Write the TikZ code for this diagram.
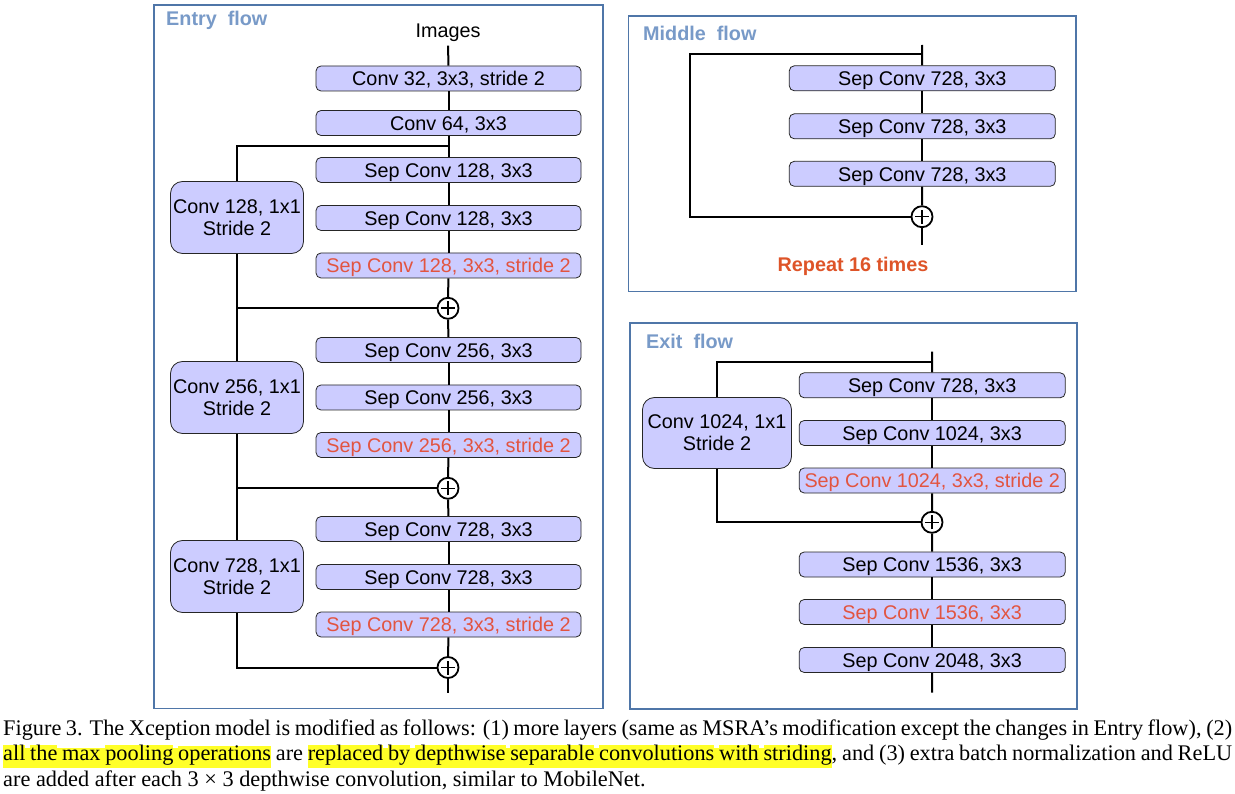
\documentclass[tikz,border=0pt]{standalone}
\usepackage{fontspec}
\setmainfont{Liberation Serif}
\newfontfamily\diagfont{Liberation Sans}

\definecolor{framecol}{RGB}{79,118,168}
\definecolor{titlecol}{RGB}{120,154,200}
\definecolor{boxfill}{RGB}{204,204,255}
\definecolor{stridered}{RGB}{226,84,64}
\definecolor{repeatcol}{RGB}{222,84,40}
\definecolor{hlyellow}{RGB}{255,255,40}

% highlighted word and highlighted (stretchable) interword space
\newcommand\hlw[1]{\begingroup\fboxsep=0pt\colorbox{hlyellow}{\vrule width0pt height12.6pt depth7.4pt\relax #1}\endgroup}
\newcommand\hlsp{{\color{hlyellow}\leaders\hrule height12.6pt depth7.4pt\relax\hskip\fontdimen2\font plus\fontdimen3\font minus\fontdimen4\font\relax}}

\begin{document}
\begin{tikzpicture}[x=1pt,y=-1pt,
  layer/.style={draw=black!85, line width=0.8pt, fill=boxfill, rounded corners=5pt,
    minimum width=265pt, minimum height=25pt, inner sep=0pt,
    font=\diagfont\fontsize{19.8}{22}\selectfont, text height=14.5pt, text depth=0pt},
  widelayer/.style={layer, minimum width=266pt},
  stridelayer/.style={text=stridered},
  shortcut/.style={draw=black!85, line width=0.8pt, fill=boxfill, rounded corners=12pt,
    minimum width=133pt, minimum height=72pt, inner sep=0pt, align=center,
    font=\diagfont\fontsize{19.8}{22}\selectfont},
  sum/.style={circle, draw, line width=1.8pt, minimum size=21pt, inner sep=0pt, fill=white,
    path picture={\draw[line width=1.6pt]
      ([xshift=-7pt]path picture bounding box.center) -- ([xshift=7pt]path picture bounding box.center)
      ([yshift=-7pt]path picture bounding box.center) -- ([yshift=7pt]path picture bounding box.center);}},
  link/.style={line width=2pt},
  flowframe/.style={draw=framecol, line width=1.8pt},
  flowtitle/.style={anchor=west, text=titlecol, inner sep=0pt,
    font=\diagfont\bfseries\fontsize{19.8}{22}\selectfont},
  captionline/.style={anchor=base west, inner sep=0pt, font=\fontsize{22.3}{25.5}\selectfont}
]
\useasboundingbox (0,0) rectangle (1235,794);
\fill[white] (0,0) rectangle (1235,794);

% ---------------- frames ----------------
\draw[flowframe] (154,5) rectangle (603,708.5);
\draw[flowframe] (628.5,16) rectangle (1076,291.5);
\draw[flowframe] (630,322.7) rectangle (1077.3,709.3);
\node[flowtitle] (tentry) at (166,20) {Entry~~flow};
\node[flowtitle] (tmiddle) at (643,33) {Middle~~flow};
\node[flowtitle] (texit) at (646,341) {Exit~~flow};

% ---------------- entry flow ----------------
\node[inner sep=3.6pt, font=\diagfont\fontsize{19.8}{22}\selectfont] (img) at (448,33) {Images};
\node[layer] (e1) at (448.5,78.5) {Conv 32, 3x3, stride 2};
\node[layer] (e2) at (448.5,123) {Conv 64, 3x3};
\coordinate (j1) at (448,146);

\node[layer] (s11) at (448.5,170) {Sep Conv 128, 3x3};
\node[layer] (s12) at (448.5,218) {Sep Conv 128, 3x3};
\node[layer,stridelayer] (s13) at (448.5,265.5) {Sep Conv 128, 3x3, stride 2};
\node[shortcut] (c1) at (237,217.5) {Conv 128, 1x1\\Stride 2};
\node[sum] (p1) at (448,308.3) {};

\node[layer] (s21) at (448.5,350) {Sep Conv 256, 3x3};
\node[layer] (s22) at (448.5,397.5) {Sep Conv 256, 3x3};
\node[layer,stridelayer] (s23) at (448.5,445) {Sep Conv 256, 3x3, stride 2};
\node[shortcut] (c2) at (237,397.5) {Conv 256, 1x1\\Stride 2};
\node[sum] (p2) at (448,488.3) {};

\node[layer] (s31) at (448.5,529) {Sep Conv 728, 3x3};
\node[layer] (s32) at (448.5,577) {Sep Conv 728, 3x3};
\node[layer,stridelayer] (s33) at (448.5,624.5) {Sep Conv 728, 3x3, stride 2};
\node[shortcut] (c3) at (237,576.5) {Conv 728, 1x1\\Stride 2};
\node[sum] (p3) at (448,667.5) {};
\coordinate (eend) at (448,693);

\draw[link] (img) -- (e1);
\draw[link] (e1) -- (e2);
\draw[link] (e2) -- (s11);
\draw[link] (s11) -- (s12);
\draw[link] (s12) -- (s13);
\draw[link] (s13) -- (p1);
\draw[link] (p1) -- (s21);
\draw[link] (s21) -- (s22);
\draw[link] (s22) -- (s23);
\draw[link] (s23) -- (p2);
\draw[link] (p2) -- (s31);
\draw[link] (s31) -- (s32);
\draw[link] (s32) -- (s33);
\draw[link] (s33) -- (p3);
\draw[link] (p3) -- (eend);
\draw[link] (j1) -| (c1);
\draw[link] (c1) |- (p1);
\draw[link] (c1) -- (c2);
\draw[link] (c2) |- (p2);
\draw[link] (c2) -- (c3);
\draw[link] (c3) |- (p3);

% ---------------- middle flow ----------------
\coordinate (mtop) at (922,45);
\coordinate (mj) at (922,54.3);
\coordinate (mleft) at (690,135);
\node[widelayer] (m1) at (922.3,78.3) {Sep Conv 728, 3x3};
\node[widelayer] (m2) at (922.3,126.3) {Sep Conv 728, 3x3};
\node[widelayer] (m3) at (922.3,173.8) {Sep Conv 728, 3x3};
\node[sum] (mp) at (922,216.7) {};
\coordinate (mend) at (922,245);
\node[text=repeatcol, inner sep=0pt, font=\diagfont\bfseries\fontsize{19.8}{22}\selectfont] (rep) at (853,266.7) {Repeat 16 times};

\draw[link] (mtop) -- (m1);
\draw[link] (m1) -- (m2);
\draw[link] (m2) -- (m3);
\draw[link] (m3) -- (mp);
\draw[link] (mp) -- (mend);
\draw[link] (mj) -| (mleft) |- (mp);

% ---------------- exit flow ----------------
\coordinate (xtop) at (932,351.7);
\coordinate (xj) at (932,361.7);
\node[widelayer] (x1) at (932.2,385.3) {Sep Conv 728, 3x3};
\node[widelayer] (x2) at (932.2,433) {Sep Conv 1024, 3x3};
\node[widelayer,stridelayer] (x3) at (932.2,480.5) {Sep Conv 1024, 3x3, stride 2};
\node[shortcut, minimum width=149pt, minimum height=71pt] (xc) at (717,433) {Conv 1024, 1x1\\Stride 2};
\node[sum] (xp) at (932,522.3) {};
\node[widelayer] (x4) at (932.2,564.5) {Sep Conv 1536, 3x3};
\node[widelayer,stridelayer] (x5) at (932.2,612) {Sep Conv 1536, 3x3};
\node[widelayer] (x6) at (932.2,660) {Sep Conv 2048, 3x3};
\coordinate (xend) at (932,692.7);

\draw[link] (xtop) -- (x1);
\draw[link] (x1) -- (x2);
\draw[link] (x2) -- (x3);
\draw[link] (x3) -- (xp);
\draw[link] (xp) -- (x4);
\draw[link] (x4) -- (x5);
\draw[link] (x5) -- (x6);
\draw[link] (x6) -- (xend);
\draw[link] (xj) -| (xc);
\draw[link] (xc) |- (xp);

% ---------------- caption ----------------
\node[captionline] (cap1) at (3,735.3) {\makebox[1229pt][s]{Figure 3. The Xception model is modified as follows: (1) more layers (same as MSRA’s modification except the changes in Entry flow), (2)}};
\node[captionline] (cap2) at (3,760.8) {\makebox[1229pt][s]{\hlw{all}\hlsp\hlw{the}\hlsp\hlw{max}\hlsp\hlw{pooling}\hlsp\hlw{operations} are \hlw{replaced}\hlsp\hlw{by}\hlsp\hlw{depthwise}\hlsp\hlw{separable}\hlsp\hlw{convolutions}\hlsp\hlw{with}\hlsp\hlw{striding}, and (3) extra batch normalization and ReLU}};
\node[captionline] (cap3) at (3,786.3) {are added after each 3 × 3 depthwise convolution, similar to MobileNet.};
\end{tikzpicture}
\end{document}
